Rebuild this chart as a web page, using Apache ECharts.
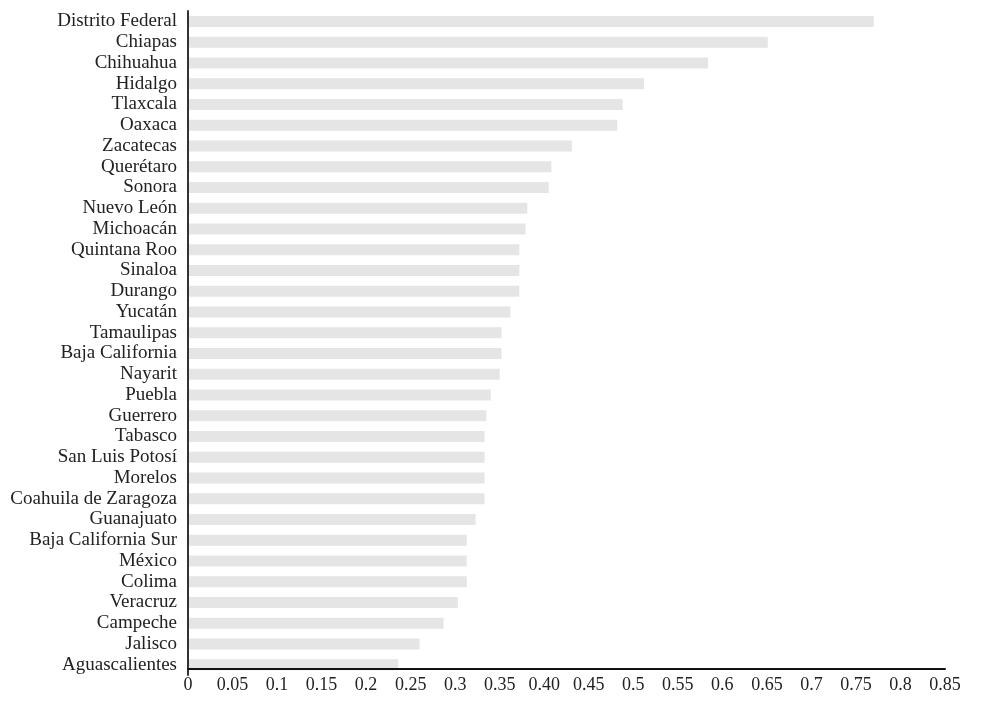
<!DOCTYPE html>
<html>
<head>
<meta charset="utf-8">
<script src="https://cdn.jsdelivr.net/npm/echarts@6/dist/echarts.min.js"></script>
<style>
  html, body { margin: 0; padding: 0; background: #fff; }
  #chart { width: 1003px; height: 711px; }
</style>
</head>
<body>
<div id="chart"></div>
<script>
  // estados (de arriba hacia abajo)
  var states = ['Distrito Federal', 'Chiapas', 'Chihuahua', 'Hidalgo', 'Tlaxcala', 'Oaxaca',
    'Zacatecas', 'Querétaro', 'Sonora', 'Nuevo León', 'Michoacán', 'Quintana Roo', 'Sinaloa',
    'Durango', 'Yucatán', 'Tamaulipas', 'Baja California', 'Nayarit', 'Puebla', 'Guerrero',
    'Tabasco', 'San Luis Potosí', 'Morelos', 'Coahuila de Zaragoza', 'Guanajuato',
    'Baja California Sur', 'México', 'Colima', 'Veracruz', 'Campeche', 'Jalisco', 'Aguascalientes'];

  var values = [0.770, 0.651, 0.584, 0.512, 0.488, 0.482,
    0.431, 0.408, 0.405, 0.381, 0.379, 0.372, 0.372,
    0.372, 0.362, 0.352, 0.352, 0.350, 0.340, 0.335,
    0.333, 0.333, 0.333, 0.333, 0.323,
    0.313, 0.313, 0.313, 0.303, 0.287, 0.260, 0.236];

  var tickLabels = ['0', '0.05', '0.1', '0.15', '0.2', '0.25', '0.3', '0.35', '0.40',
    '0.45', '0.5', '0.55', '0.6', '0.65', '0.7', '0.75', '0.8', '0.85'];

  var chart = echarts.init(document.getElementById('chart'));
  chart.setOption({
    animation: false,
    textStyle: {
      fontFamily: 'Liberation Serif'
    },
    grid: {
      left: 188,
      right: 58,
      top: 11,
      bottom: 36
    },
    // X轴
    xAxis: {
      type: 'value',
      min: 0,
      max: 0.85,
      interval: 0.05,
      offset: -6,
      z: 5,
      axisLine: {
        show: true,
        lineStyle: { color: '#111', width: 2 }
      },
      axisTick: { show: false },
      splitLine: { show: false },
      axisLabel: {
        color: '#222',
        fontSize: 18,
        margin: 7,
        formatter: function (v) {
          return tickLabels[Math.round(v / 0.05)];
        }
      }
    },
    // Y轴
    yAxis: {
      type: 'category',
      inverse: true,
      data: states,
      z: 5,
      axisLine: {
        show: true,
        lineStyle: { color: '#333', width: 2 }
      },
      axisTick: { show: false },
      axisLabel: {
        color: '#222',
        fontSize: 19,
        margin: 11,
        interval: 0
      }
    },
    series: [{
      type: 'bar',
      data: values,
      barWidth: 11,
      itemStyle: { color: '#e5e5e5' }
    }]
  });
</script>
</body>
</html>
